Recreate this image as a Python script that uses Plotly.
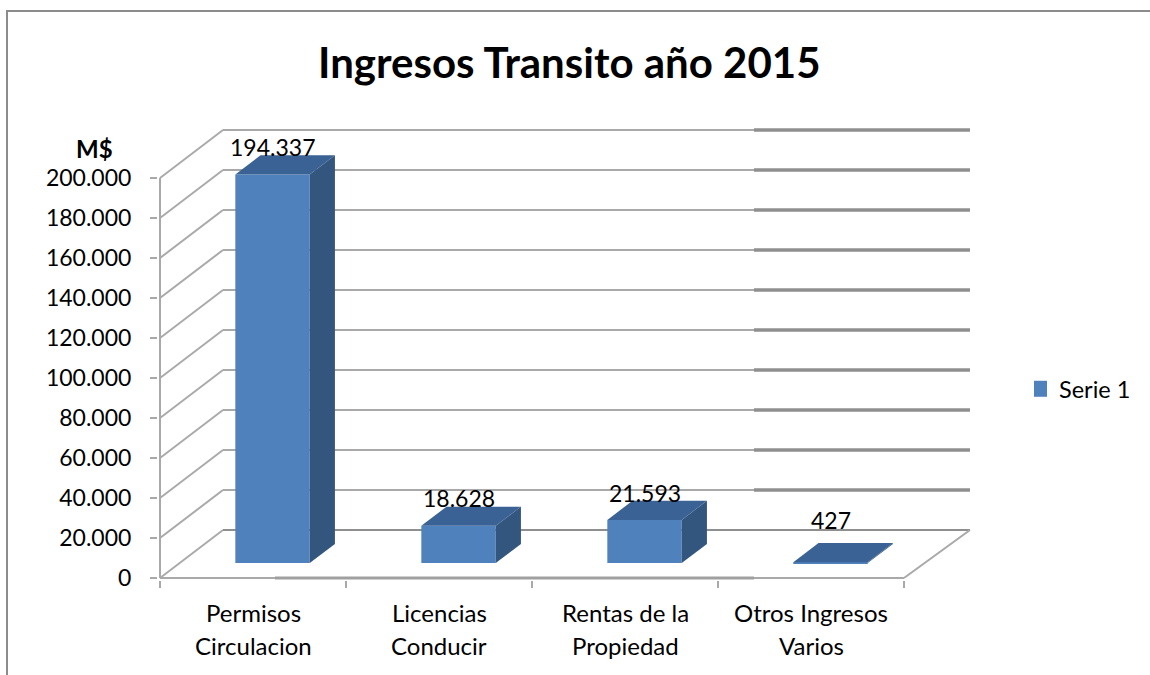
import plotly.graph_objects as go

# ---- data ----
categories_line1 = ["Permisos", "Licencias", "Rentas de la", "Otros Ingresos"]
categories_line2 = ["Circulacion", "Conducir", "Propiedad", "Varios"]
series_name = "Serie 1"
values = [194337, 18628, 21593, 427]
value_labels = ["194.337", "18.628", "21.593", "427"]
y_ticks = [0, 20000, 40000, 60000, 80000, 100000, 120000, 140000, 160000, 180000, 200000]
title_text = "Ingresos Transito año 2015"
unit_label = "M$"

# ---- pseudo-3D geometry (page pixels) ----
W, H = 1150, 675
X0, Y0 = 160, 578                  # where category 0 / value 0 meet on the front edge
PX_L, PX_R, PX_T, PX_B = 158, 985, 118, 580
PX_PER_CAT = 186
PX_PER_VAL = 400 / 200000
DEPTH_X = 63 / PX_PER_CAT          # wall depth in category units
DEPTH_Y = 48 / PX_PER_VAL          # wall depth in value units
WALL_END = (970 - X0) / PX_PER_CAT
N = len(values)
BAR_W = 0.40
D0, D1 = 0.31, 0.71                # bar front/back position through the depth

FRONT, SIDE, TOP = "#4f81bd", "#33567f", "#3a6294"
GRID, GRID_DK = "#a9a9a9", "#8f8f8f"
SPLIT_X = (754 - X0) / PX_PER_CAT  # right of here the walls' lines are heavier
HEAVY_FRONT_X = (275 - X0) / PX_PER_CAT
X_RANGE = [(PX_L - X0) / PX_PER_CAT, (PX_R - X0) / PX_PER_CAT]
Y_RANGE = [(Y0 - PX_B) / PX_PER_VAL, (Y0 - PX_T) / PX_PER_VAL]


def px(x):
    return (x - PX_L) / (PX_R - PX_L)


def py(y):
    return (PX_B - y) / (PX_B - PX_T)


fig = go.Figure()


def line(xs, ys, color=GRID, width=2):
    fig.add_trace(go.Scatter(x=xs, y=ys, mode="lines", showlegend=False, hoverinfo="skip",
                             line=dict(color=color, width=width), xaxis="x", yaxis="y"))


# walls and floor on the lower axes
for v in y_ticks:
    line([0, DEPTH_X], [v, v + DEPTH_Y])
    if v == 0:
        line([DEPTH_X, WALL_END], [DEPTH_Y, DEPTH_Y], GRID_DK, 2)
    else:
        line([DEPTH_X, SPLIT_X], [v + DEPTH_Y, v + DEPTH_Y])
        line([SPLIT_X, WALL_END], [v + DEPTH_Y, v + DEPTH_Y], GRID_DK, 3.5)
line([0, 0], [0, y_ticks[-1]])
line([N, WALL_END], [0, DEPTH_Y])
line([0, HEAVY_FRONT_X], [0, 0])
line([HEAVY_FRONT_X, SPLIT_X], [0, 0], "#a0a0a0", 3)
line([SPLIT_X, N], [0, 0])

# bars on the overlaying axes, so they cover the grid
centres = [i + 0.5 + DEPTH_X * D0 for i in range(N)]
base = DEPTH_Y * D0
dx = DEPTH_X * (D1 - D0)
dy = DEPTH_Y * (D1 - D0)
fig.add_trace(go.Bar(x=centres, y=values, base=base, width=BAR_W, name=series_name,
                     marker=dict(color=FRONT, line=dict(width=0)), xaxis="x2", yaxis="y2",
                     hoverinfo="skip", showlegend=False))
for c, v in zip(centres, values):
    l, r = c - BAR_W / 2, c + BAR_W / 2
    t = base + v
    fig.add_trace(go.Scatter(x=[r, r + dx, r + dx, r, r], y=[base, base + dy, t + dy, t, base],
                             fill="toself", fillcolor=SIDE, mode="none", showlegend=False,
                             hoverinfo="skip", xaxis="x2", yaxis="y2"))
    fig.add_trace(go.Scatter(x=[l, r, r + dx, l + dx, l], y=[t, t, t + dy, t + dy, t],
                             fill="toself", fillcolor=TOP, mode="none", showlegend=False,
                             hoverinfo="skip", xaxis="x2", yaxis="y2"))
# legend key for the series
fig.add_trace(go.Scatter(x=[None], y=[None], mode="markers", name=series_name,
                         marker=dict(symbol="square", size=16, color=FRONT), xaxis="x2", yaxis="y2"))

annotations = []
label_shift = [27, 28, 27, 42]
for c, v, txt, s in zip(centres, values, value_labels, label_shift):
    annotations.append(dict(x=c, y=base + v, xref="x2", yref="y2", text=txt, showarrow=False,
                            xanchor="center", yanchor="middle", yshift=s,
                            font=dict(size=23, color="#000000")))
for i, (a, b) in enumerate(zip(categories_line1, categories_line2)):
    for txt, pix in ((a, 612), (b, 645)):
        annotations.append(dict(x=i + 0.5, y=py(pix), xref="x", yref="paper", text=txt,
                                showarrow=False, xanchor="center", yanchor="middle",
                                font=dict(size=24, color="#000000")))
annotations.append(dict(x=px(94), y=py(148), xref="paper", yref="paper",
                        text=f"<b>{unit_label}</b>", showarrow=False, xanchor="center",
                        yanchor="middle", font=dict(size=24, color="#000000")))
annotations.append(dict(x=px(569), y=py(62), xref="paper", yref="paper",
                        text=f"<b>{title_text}</b>", showarrow=False, xanchor="center",
                        yanchor="middle", font=dict(size=42, color="#000000")))

frame = dict(type="line", xref="paper", yref="paper", line=dict(color="#8c8c8c", width=2))
shapes = [dict(frame, x0=px(6), x1=px(W), y0=py(11), y1=py(11)),
          dict(frame, x0=px(7), x1=px(7), y0=py(10), y1=py(H))]

fig.update_layout(
    width=W, height=H,
    margin=dict(l=PX_L, r=W - PX_R, t=PX_T, b=H - PX_B, autoexpand=False),
    paper_bgcolor="#ffffff", plot_bgcolor="#ffffff",
    font=dict(family="Lato, Carlito, sans-serif", color="#000000"),
    separators=",.",
    barmode="overlay",
    xaxis=dict(range=X_RANGE, tickvals=list(range(N + 1)), showticklabels=False, ticks="outside",
               ticklen=7, tickwidth=2, tickcolor=GRID, showgrid=False, zeroline=False, showline=False),
    yaxis=dict(range=Y_RANGE, tickvals=y_ticks, tickformat=",d", ticks="outside", ticklen=7,
               tickwidth=2, tickcolor=GRID, showgrid=False, zeroline=False, showline=False,
               tickfont=dict(size=23, color="#000000"), ticklabelstandoff=14),
    xaxis2=dict(range=X_RANGE, overlaying="x", visible=False),
    yaxis2=dict(range=Y_RANGE, overlaying="y", visible=False),
    legend=dict(x=px(1034), y=py(389), xanchor="left", yanchor="middle", indentation=-15,
                font=dict(size=23.5, color="#000000"), bgcolor="rgba(0,0,0,0)", itemclick=False),
    annotations=annotations,
    shapes=shapes,
)
fig.write_html("out.html", config={"displayModeBar": False},
               post_script="document.body.style.margin='0';document.body.style.overflow='hidden';")
